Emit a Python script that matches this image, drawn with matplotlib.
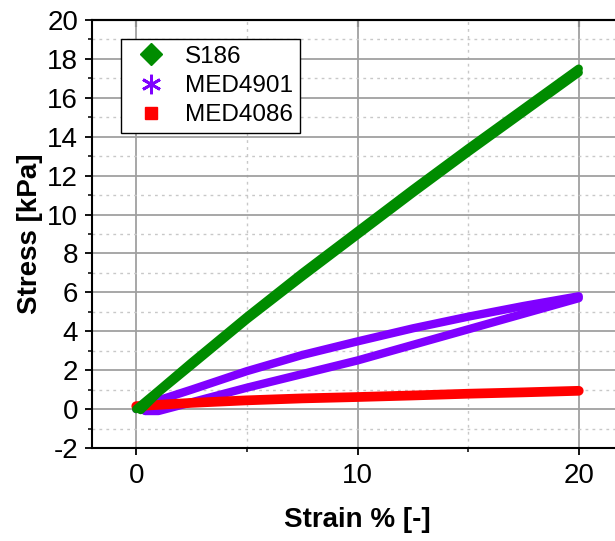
import numpy as np
import matplotlib.pyplot as plt
from matplotlib.lines import Line2D
from matplotlib.ticker import MultipleLocator, NullLocator

plt.rcParams['font.family'] = ['Liberation Sans', 'DejaVu Sans']
plt.rcParams['axes.unicode_minus'] = False

# S186: loading and unloading almost on top of each other
s186_strain_up = [0, 1, 2.5, 5, 7.5, 10, 12.5, 15, 17.5, 20]
s186_stress_up = [0, 0.95, 2.4, 4.75, 7.0, 9.15, 11.3, 13.4, 15.45, 17.5]
s186_strain_down = [20, 17.5, 15, 12.5, 10, 7.5, 5, 2.5, 1, 0.2]
s186_stress_down = [17.3, 15.25, 13.2, 11.1, 8.95, 6.8, 4.6, 2.25, 0.85, -0.05]

# MED4901: hysteresis loop
med4901_strain_up = [0, 1, 2.5, 5, 7.5, 10, 12.5, 15, 17.5, 20]
med4901_stress_up = [0, 0.45, 1.0, 1.95, 2.78, 3.48, 4.15, 4.75, 5.3, 5.8]
med4901_strain_down = [20, 17.5, 15, 12.5, 10, 7.5, 5, 2.5, 1, 0.4]
med4901_stress_down = [5.7, 4.9, 4.1, 3.3, 2.5, 1.8, 1.1, 0.35, -0.1, -0.1]

# MED4086
med4086_strain = [0, 2.5, 5, 7.5, 10, 12.5, 15, 17.5, 20]
med4086_stress = [0.15, 0.32, 0.45, 0.55, 0.62, 0.7, 0.79, 0.86, 0.94]

c_green = '#008c00'
c_purple = '#8000ff'
c_red = '#ff0000'

fig = plt.figure(figsize=(6.15, 5.41), dpi=100)
ax = fig.add_axes([92 / 615, 1 - 448 / 541, 531 / 615, 428 / 541])

lw = 6
ax.plot(med4901_strain_up, med4901_stress_up, color=c_purple, lw=lw, solid_capstyle='round', solid_joinstyle='round', zorder=3)
ax.plot(med4901_strain_down, med4901_stress_down, color=c_purple, lw=lw, solid_capstyle='round', solid_joinstyle='round', zorder=3)
ax.plot(med4086_strain, med4086_stress, color=c_red, lw=7, solid_capstyle='round', zorder=4)
ax.plot(s186_strain_up, s186_stress_up, color=c_green, lw=lw, solid_capstyle='round', solid_joinstyle='round', zorder=5)
ax.plot(s186_strain_down, s186_stress_down, color=c_green, lw=lw, solid_capstyle='round', solid_joinstyle='round', zorder=5)

ax.set_xlim(-2, 22)
ax.set_ylim(-2, 20)
ax.xaxis.set_major_locator(MultipleLocator(10))
ax.xaxis.set_minor_locator(MultipleLocator(5))
ax.yaxis.set_major_locator(MultipleLocator(2))
ax.yaxis.set_minor_locator(MultipleLocator(1))

ax.grid(which='major', color='#a0a0a0', lw=1.3, ls='-', zorder=0)
ax.grid(which='minor', color='#c8c8c8', lw=1.0, ls=(0, (2, 3)), zorder=0)
ax.set_axisbelow(True)

ax.tick_params(axis='both', which='major', direction='out', length=5, width=1.3,
               labelsize=20, pad=5)
ax.tick_params(axis='both', which='minor', direction='out', length=3, width=1.1)
ax.tick_params(axis='x', which='major', pad=6)

# inward major ticks along the top edge
top = ax.secondary_xaxis('top')
top.xaxis.set_major_locator(MultipleLocator(10))
top.xaxis.set_minor_locator(NullLocator())
top.tick_params(direction='in', length=5, width=1.5, labeltop=False)
top.spines['top'].set_linewidth(1.5)

for side in ['left', 'bottom', 'top']:
    ax.spines[side].set_linewidth(1.5)
ax.spines['right'].set_visible(False)

ax.set_xlabel('Strain % [-]', fontsize=20, fontweight='bold', labelpad=13)
ax.set_ylabel('Stress [kPa]', fontsize=20, fontweight='bold', labelpad=3)

handles = [
    Line2D([], [], ls='none', marker='D', color=c_green, markersize=11),
    Line2D([], [], ls='none', marker=(6, 2, 0), color=c_purple, markersize=14, markeredgewidth=2.0),
    Line2D([], [], ls='none', marker='s', color=c_red, markersize=9),
]
leg = ax.legend(handles, ['S186', 'MED4901', 'MED4086'], loc='upper left',
                bbox_to_anchor=(29 / 531, 1 - 19 / 428), fontsize=17.5, frameon=True,
                fancybox=False, edgecolor='black', framealpha=1, borderaxespad=0,
                handlelength=1.9, handletextpad=0.45, labelspacing=0.3, borderpad=0.28)
leg.get_frame().set_linewidth(1.0)

fig.savefig('out.png', dpi=100)
